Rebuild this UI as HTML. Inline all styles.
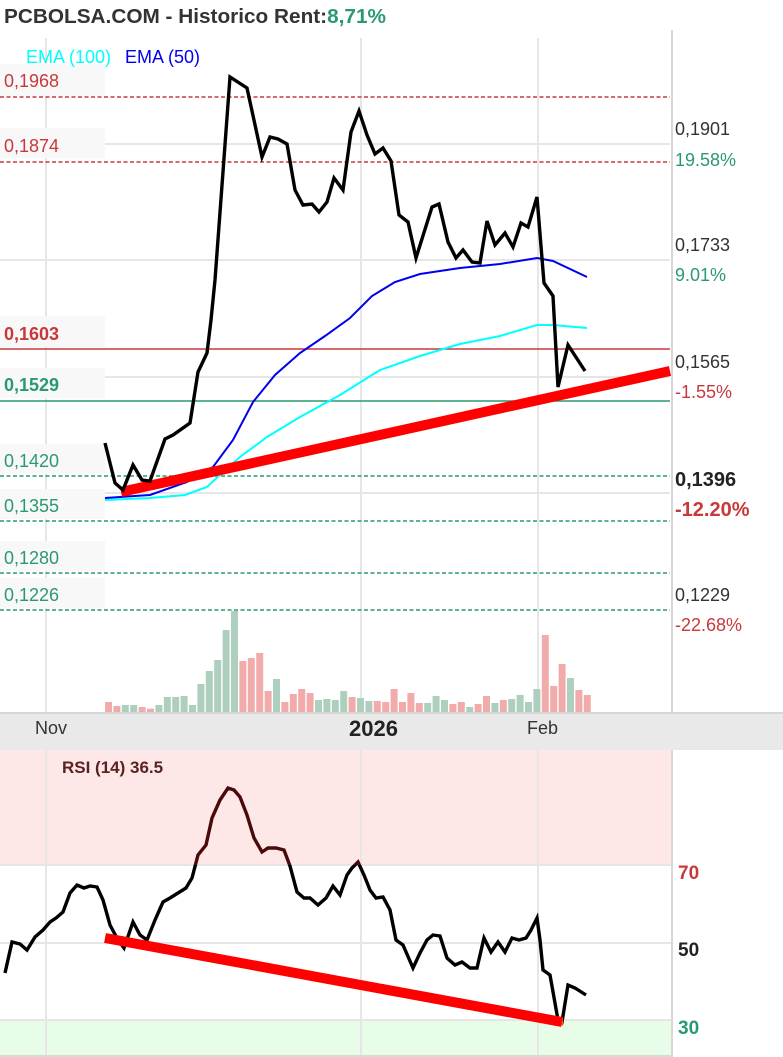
<!DOCTYPE html>
<html><head><meta charset="utf-8"><style>
html,body{margin:0;padding:0;background:#fff;}
body{width:783px;height:1057px;overflow:hidden;font-family:"Liberation Sans",sans-serif;}
svg{display:block}
</style></head><body>
<svg id="s" width="783" height="1057" xmlns="http://www.w3.org/2000/svg" font-family="Liberation Sans, sans-serif">
<rect width="783" height="1057" fill="#fff"/>
<rect x="0" y="712" width="783" height="38" fill="#e9e9e9"/>
<line x1="0" y1="713" x2="783" y2="713" stroke="#d6d6d6" stroke-width="2"/>
<rect x="0" y="750" width="672" height="115" fill="#fde7e7"/>
<rect x="0" y="1020" width="672" height="36" fill="#e8fde8"/>
<g stroke="#e6e6e6" stroke-width="2">
<line x1="46" y1="38" x2="46" y2="712"/><line x1="361" y1="38" x2="361" y2="712"/><line x1="538" y1="38" x2="538" y2="712"/>
<line x1="46" y1="750" x2="46" y2="1057"/><line x1="361" y1="750" x2="361" y2="1057"/><line x1="538" y1="750" x2="538" y2="1057"/>
<line x1="0" y1="144" x2="670" y2="144"/><line x1="0" y1="260" x2="670" y2="260"/><line x1="0" y1="377" x2="670" y2="377"/><line x1="0" y1="493" x2="670" y2="493"/>
<line x1="0" y1="865" x2="672" y2="865"/><line x1="0" y1="943" x2="672" y2="943"/><line x1="0" y1="1020" x2="672" y2="1020"/>
</g>
<line x1="672" y1="30" x2="672" y2="712" stroke="#d8d8d8" stroke-width="2"/>
<line x1="672" y1="750" x2="672" y2="1057" stroke="#d8d8d8" stroke-width="2"/>
<line x1="0" y1="1056" x2="672" y2="1056" stroke="#d8d8d8" stroke-width="2"/>
<g fill="#f8f8f8">
<rect x="0" y="64" width="105" height="32"/><rect x="0" y="128" width="105" height="30"/>
<rect x="0" y="316" width="105" height="31"/><rect x="0" y="368" width="105" height="30"/>
<rect x="0" y="444" width="105" height="30"/><rect x="0" y="489" width="105" height="30"/>
<rect x="0" y="541" width="105" height="30"/><rect x="0" y="578" width="105" height="30"/>
</g>
<g stroke-width="1.5">
<line x1="0" y1="97" x2="670" y2="97" stroke="#c9393b" stroke-dasharray="4,2.5"/>
<line x1="0" y1="162" x2="670" y2="162" stroke="#c9393b" stroke-dasharray="4,2.5"/>
<line x1="0" y1="349" x2="670" y2="349" stroke="#c9393b"/>
<line x1="0" y1="401" x2="670" y2="401" stroke="#2a9a6e"/>
<line x1="0" y1="476" x2="670" y2="476" stroke="#2a9a6e" stroke-dasharray="4,2.5"/>
<line x1="0" y1="521" x2="670" y2="521" stroke="#2a9a6e" stroke-dasharray="4,2.5"/>
<line x1="0" y1="573" x2="670" y2="573" stroke="#2a9a6e" stroke-dasharray="4,2.5"/>
<line x1="0" y1="610" x2="670" y2="610" stroke="#2a9a6e" stroke-dasharray="4,2.5"/>
</g>
<g id="vol"></g>
<polyline fill="none" stroke="#00ffff" stroke-width="2" points="105,500 150,498 185,495 207,487 225,470 240,457 267,437 300,417 340,395 380,370 420,356 460,344 500,336 537,325 553,325 587,328"/>
<polyline fill="none" stroke="#0000ee" stroke-width="2" points="105,498 150,495 187,482 213,467 233,440 253,402 275,375 300,353 325,336 350,318 372,296 395,282 420,274 460,268 500,264 537,258 553,261 587,277"/>
<line x1="121" y1="492" x2="670" y2="371" stroke="#ff0000" stroke-width="10"/>
<polyline fill="none" stroke="#000" stroke-width="3.4" stroke-linejoin="miter" points="105,443 115,483 123,490 133,465 142,480 150,481 165,439 173,435 190,423 198,372 207,353 211,320 215,280 230,77 247,88 262,157 270,137 278,139 287,144 295,190 303,205 312,204 319,212 327,202 334,178 343,190 351,132 359,111 367,135 375,154 383,148 391,161 399,215 408,222 416,258 432,207 439,204 448,242 456,258 463,250 472,262 480,263 487,221 495,245 505,233 513,247 521,223 528,227 537,197 544,283 553,296 558,387 568,345 585,371"/>
<defs><clipPath id="ob"><rect x="0" y="750" width="672" height="115"/></clipPath><clipPath id="nb"><rect x="0" y="865" width="672" height="192"/></clipPath></defs>
<g id="rsi"></g>
<polygon points="540,1013 563,1018 563,1026" fill="#ff6600"/>
<line x1="105" y1="938" x2="562" y2="1022" stroke="#ff0000" stroke-width="10"/>
<text x="4" y="23" font-size="20" fill="#333" font-weight="bold" textLength="382" lengthAdjust="spacingAndGlyphs">PCBOLSA.COM - Historico  Rent:<tspan fill="#2a9a6e">8,71%</tspan></text>
<text x="26" y="63" font-size="18" fill="#00ffff">EMA (100)</text>
<text x="125" y="63" font-size="18" fill="#0000ee">EMA (50)</text>
<g font-size="18">
<text x="4" y="87" fill="#c9393b">0,1968</text>
<text x="4" y="152" fill="#c9393b">0,1874</text>
<text x="4" y="340" fill="#c9393b" font-weight="bold">0,1603</text>
<text x="4" y="391" fill="#2a9a6e" font-weight="bold">0,1529</text>
<text x="4" y="467" fill="#2a9a6e">0,1420</text>
<text x="4" y="512" fill="#2a9a6e">0,1355</text>
<text x="4" y="564" fill="#2a9a6e">0,1280</text>
<text x="4" y="601" fill="#2a9a6e">0,1226</text>
<text x="675" y="135" fill="#333">0,1901</text>
<text x="675" y="166" fill="#2a9a6e">19.58%</text>
<text x="675" y="251" fill="#333">0,1733</text>
<text x="675" y="281" fill="#2a9a6e">9.01%</text>
<text x="675" y="368" fill="#333">0,1565</text>
<text x="675" y="398" fill="#c9393b">-1.55%</text>
<text x="675" y="486" fill="#222" font-weight="bold" font-size="20">0,1396</text>
<text x="675" y="516" fill="#c9393b" font-weight="bold" font-size="20">-12.20%</text>
<text x="675" y="601" fill="#333">0,1229</text>
<text x="675" y="631" fill="#c9393b">-22.68%</text>
<text x="35" y="734" fill="#333">Nov</text>
<text x="349" y="736" fill="#222" font-weight="bold" font-size="22">2026</text>
<text x="527" y="734" fill="#333">Feb</text>
<text x="62" y="773" fill="#5a2323" font-weight="bold" font-size="17">RSI (14) 36.5</text>
<text x="678" y="879" fill="#c9393b" font-weight="bold" font-size="19">70</text>
<text x="678" y="956" fill="#222" font-weight="bold" font-size="19">50</text>
<text x="678" y="1034" fill="#2a9a6e" font-weight="bold" font-size="19">30</text>
</g>
</svg>
<script>
var NS="http://www.w3.org/2000/svg";
var tops=[306,318,315,315,321,326,315,291,291,288,315,252,213,180,90,33,183,174,159,273,237,306,282,267,279,300,297,300,273,291,294,303,303,306,267,306,279,309,309,288,300,312,306,321,312,288,309,300,297,285,306,267,105,258,192,234,270,285];
var cols="ppggppgggggggggg"+"pppp"+"g"+"pppp"+"gggg"+"p"+"gg"+"ppppppgggppgppgpggg"+"g"+"pppgpp";
var vol=document.getElementById("vol");
for(var i=0;i<tops.length;i++){
 var h=(336-tops[i])/3, x=105+i*8.4;
 var r=document.createElementNS(NS,"rect");
 r.setAttribute("x",x);r.setAttribute("y",712-h);r.setAttribute("width",7);r.setAttribute("height",h);
 r.setAttribute("fill",cols[i]==="g"?"#afcfbe":"#f2abab");vol.appendChild(r);}
var rp="5,973 12,942 20,944 27,950 35,937 43,930 50,922 56,918 63,912 70,893 77,885 84,888 90,886 97,887 103,900 110,925 118,940 124,948 133,922 140,935 147,940 155,920 163,902 170,898 178,893 186,888 192,878 198,855 206,845 212,818 220,800 228,788 234,790 240,797 247,815 254,838 262,852 268,848 276,848 284,850 290,866 297,892 304,898 310,898 318,905 326,898 333,886 340,895 347,875 352,868 358,862 364,875 370,890 376,898 383,897 390,910 396,940 403,945 413,968 420,953 427,940 433,935 440,936 447,958 455,965 462,962 470,968 477,968 484,938 491,952 498,942 505,952 512,938 519,940 526,938 531,930 537,918 540,940 543,970 550,975 558,1020 562,1022 568,985 575,988 586,995";
var g=document.getElementById("rsi");
[["nb","#000"],["ob","#4a0a0a"]].forEach(function(c){
 var p=document.createElementNS(NS,"polyline");p.setAttribute("points",rp);p.setAttribute("fill","none");
 p.setAttribute("stroke",c[1]);p.setAttribute("stroke-width","3.4");p.setAttribute("clip-path","url(#"+c[0]+")");g.appendChild(p);});
</script>
</body></html>
